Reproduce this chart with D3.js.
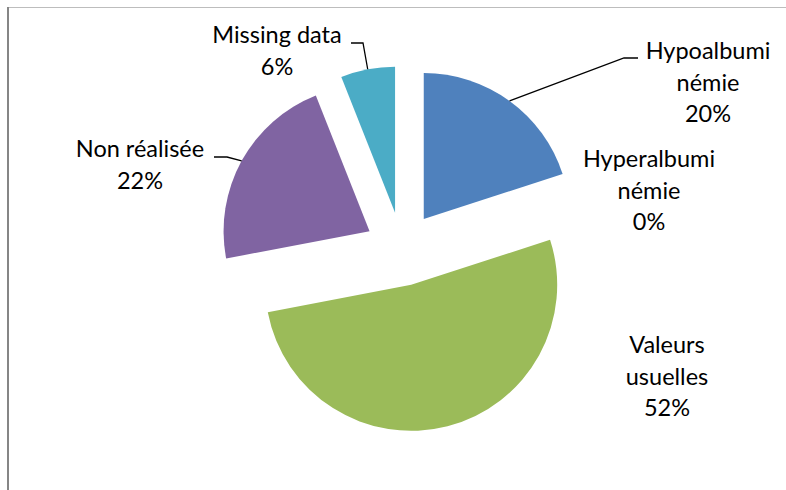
<!DOCTYPE html>
<html>
<head>
<meta charset="utf-8">
<script src="https://cdn.jsdelivr.net/npm/d3@7"></script>
<style>
  body { margin: 0; background: #fff; }
  text { font-family: Lato, "Open Sans", sans-serif; fill: #000; }
</style>
</head>
<body>
<div id="chart"></div>
<script>
// data
const categories = ["Hypoalbuminémie", "Hyperalbuminémie", "Valeurs usuelles", "Non réalisée", "Missing data"];
const labelLines = [["Hypoalbumi", "némie"], ["Hyperalbumi", "némie"], ["Valeurs", "usuelles"], ["Non réalisée"], ["Missing data"]];
const values = [20, 0, 52, 22, 6];
const colors = ["#4F81BD", "#C0504D", "#9BBB59", "#8064A2", "#4BACC6"];

// layout (label anchor = center x, first baseline y; leader = elbow + end x)
const labelPos = [[708, 59], [649, 167], [667, 353], [140, 157], [277, 43]];
const leaders = [[[624, 58], 638], null, null, [[227, 157], 214], [[363, 43], 351]];

var width = 786, height = 490;
var cx = 402, cy = 249, radius = 146, explode = 37;
var lineH = 31.5;

var svg = d3.select("#chart")
    .append("svg")
    .attr("width", width)
    .attr("height", height);

svg.append("rect").attr("width", width).attr("height", height).attr("fill", "#fff");

//chart frame, only left + top visible in the crop
svg.append("line").attr("x1", 8).attr("y1", 7.5).attr("x2", width).attr("y2", 7.5)
    .attr("stroke", "#bdbdbd").attr("stroke-width", 1);
svg.append("line").attr("x1", 8).attr("y1", 7).attr("x2", 8).attr("y2", height)
    .attr("stroke", "#868686").attr("stroke-width", 2);

var pie = d3.pie().sort(null).value(d => d);
var arcs = pie(values);

var arc = d3.arc().innerRadius(0).outerRadius(radius);

function offset(d) {
  let mid = (d.startAngle + d.endAngle) / 2;
  return [cx + explode * Math.sin(mid), cy - explode * Math.cos(mid)];
}

var g = svg.append("g");

g.selectAll(null)
    .data(arcs)
    .enter()
    .append("path")
    .attr("transform", d => "translate(" + offset(d) + ")")
    .attr("d", arc)
    .attr("fill", (d, i) => colors[i]);

//leader lines start at the middle of the outer arc
arcs.forEach(function(d, i) {
  if (!leaders[i]) return;
  let o = offset(d);
  let mid = (d.startAngle + d.endAngle) / 2;
  let p0 = [o[0] + radius * Math.sin(mid), o[1] - radius * Math.cos(mid)];
  let elbow = leaders[i][0];
  let pts = [p0, elbow, [leaders[i][1], elbow[1]]];
  g.append("path")
      .attr("d", d3.line()(pts))
      .attr("fill", "none")
      .attr("stroke", "#000")
      .attr("stroke-width", 1.3);
});

//labels
arcs.forEach(function(d, i) {
  let lines = labelLines[i].concat([d3.format(".0f")(values[i]) + "%"]);
  let t = svg.append("text")
      .attr("text-anchor", "middle")
      .attr("font-size", "23.5px");
  lines.forEach(function(l, k) {
    t.append("tspan")
        .attr("x", labelPos[i][0])
        .attr("y", labelPos[i][1] + k * lineH)
        .text(l);
  });
});
</script>
</body>
</html>
